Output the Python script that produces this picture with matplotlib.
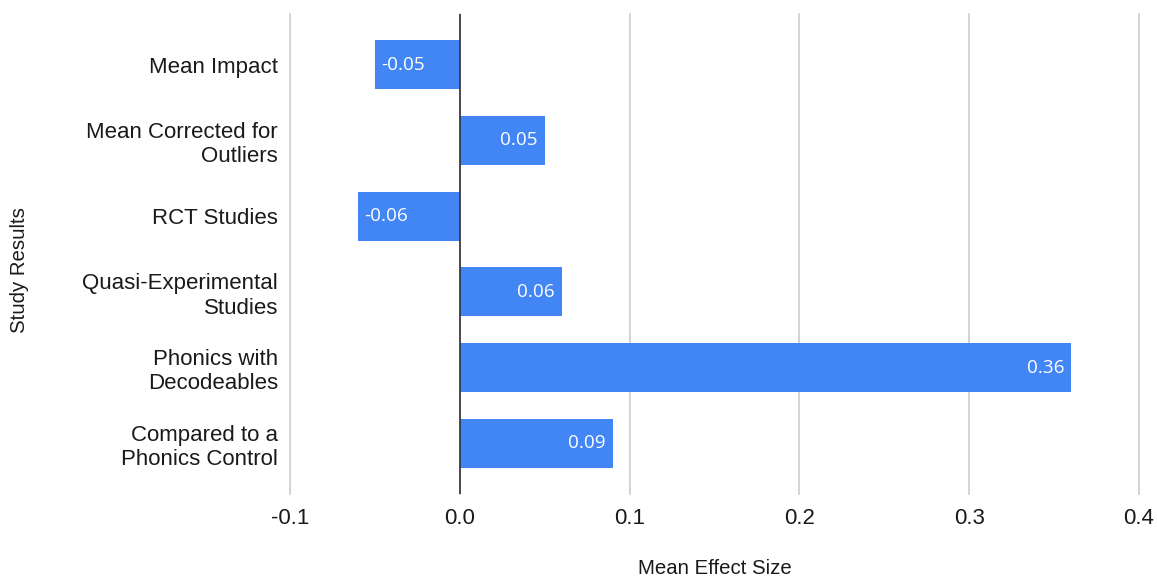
import matplotlib
matplotlib.use("Agg")
import matplotlib.pyplot as plt

categories = ["Mean Impact", "Mean Corrected for\nOutliers", "RCT Studies",
              "Quasi-Experimental\nStudies", "Phonics with\nDecodeables",
              "Compared to a\nPhonics Control"]
values = [-0.05, 0.05, -0.06, 0.06, 0.36, 0.09]
value_labels = ["-0.05", "0.05", "-0.06", "0.06", "0.36", "0.09"]
xticks = [-0.1, 0.0, 0.1, 0.2, 0.3, 0.4]
xtick_labels = ["-0.1", "0.0", "0.1", "0.2", "0.3", "0.4"]

W, H = 1157, 576
fig = plt.figure(figsize=(W / 100, H / 100), dpi=100)
ax = fig.add_axes([290 / W, (H - 494) / H, (1139 - 290) / W, (494 - 14) / H])

ypos = list(range(len(categories)))
ax.barh(ypos, values, height=0.65, color="#4285F4", zorder=3)
ax.set_ylim(len(categories) - 0.33, -0.67)
ax.set_xlim(-0.1, 0.4)

ax.set_xticks(xticks)
ax.set_xticklabels(xtick_labels, family="Liberation Sans", fontsize=16, color="#1a1a1a")
ax.set_yticks(ypos)
ax.set_yticklabels(categories, family="Liberation Sans", fontsize=16, color="#1a1a1a",
                   multialignment="right")
ax.tick_params(axis="x", length=0, pad=10.2)
ax.tick_params(axis="y", length=0, pad=8.6)

ax.grid(axis="x", color="#cccccc", linewidth=1.2, zorder=0)
for gl in ax.get_xgridlines():
    gl.set_clip_on(False)
ax.axvline(0, color="#333333", linewidth=1.2, zorder=4)
for s in ax.spines.values():
    s.set_visible(False)

px = 0.5 / (1139 - 290)  # data units per pixel
for y, v, lab in zip(ypos, values, value_labels):
    if v >= 0:
        ax.text(v - 7 * px, y, lab, ha="right", va="center", color="white",
                family="Open Sans", fontsize=13.6, zorder=5)
    else:
        ax.text(v + 6 * px, y, lab, ha="left", va="center", color="white",
                family="Open Sans", fontsize=13.6, zorder=5)

fig.text(714.5 / W, 1 - 568 / H, "Mean Effect Size", ha="center", va="center",
         family="Liberation Sans", fontsize=14.7, color="#1a1a1a")
fig.text(20 / W, 1 - 270 / H, "Study Results", ha="center", va="center", rotation=90,
         family="Liberation Sans", fontsize=14.7, color="#1a1a1a")

fig.savefig("out.png", dpi=100, facecolor="white")
